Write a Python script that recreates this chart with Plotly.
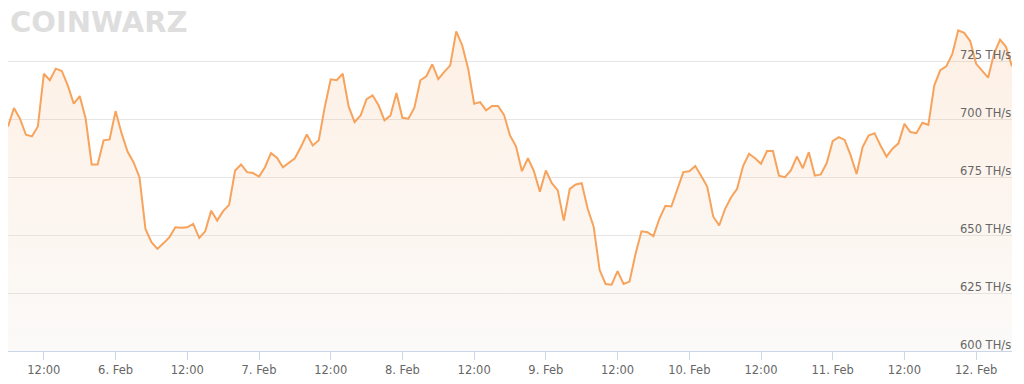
import pandas as pd
import plotly.graph_objects as go

# Hourly network hashrate (TH/s), 5 Feb 06:00 -> 12 Feb 06:00
start_time = "2020-02-05 06:00"
hashrate = [
    696.8, 704.7, 700.1, 693.2, 692.5, 696.8, 719.5, 716.7, 721.7, 720.7,
    714.5, 706.6, 709.9, 700.1, 680.4, 680.4, 690.8, 691.2, 703.4, 693.9,
    686.0, 681.4, 674.9, 652.6, 646.9, 644.0, 646.4, 649.0, 653.3, 653.1,
    653.3, 654.8, 648.7, 651.6, 660.5, 656.2, 660.3, 663.0, 677.8, 680.4,
    677.1, 676.7, 675.2, 679.2, 685.3, 683.3, 679.2, 681.0, 683.1, 687.9,
    693.3, 688.6, 690.8, 705.1, 717.1, 716.7, 719.5, 705.4, 698.7, 701.5,
    708.6, 710.2, 705.9, 699.4, 701.5, 711.2, 700.5, 700.1, 704.9, 716.7,
    718.4, 723.6, 717.2, 720.3, 723.1, 737.8, 731.8, 721.7, 706.6, 707.3,
    703.7, 705.6, 705.6, 701.8, 692.9, 688.2, 677.5, 683.1, 677.5, 668.7,
    677.8, 672.3, 669.2, 656.2, 669.9, 671.8, 672.3, 661.3, 653.6, 634.9,
    628.9, 628.6, 634.4, 628.9, 629.9, 641.8, 651.6, 651.2, 649.5, 657.0,
    662.6, 662.3, 669.9, 677.1, 677.5, 679.7, 675.4, 670.9, 658.0, 654.1,
    661.3, 666.3, 669.9, 679.7, 685.0, 683.1, 680.7, 686.2, 686.2, 675.6,
    674.9, 677.8, 683.8, 678.8, 685.7, 675.6, 676.1, 681.0, 690.5, 692.2,
    691.0, 684.3, 676.3, 687.9, 692.9, 693.9, 688.6, 683.8, 687.2, 689.5,
    697.9, 694.4, 693.9, 698.4, 697.5, 714.5, 721.0, 722.7, 727.9, 738.2,
    737.1, 733.6, 723.8, 720.7, 717.8, 728.2, 734.2, 731.1, 722.7,
]

x_tick_times = [
    "2020-02-05 12:00", "2020-02-06 00:00", "2020-02-06 12:00", "2020-02-07 00:00",
    "2020-02-07 12:00", "2020-02-08 00:00", "2020-02-08 12:00", "2020-02-09 00:00",
    "2020-02-09 12:00", "2020-02-10 00:00", "2020-02-10 12:00", "2020-02-11 00:00",
    "2020-02-11 12:00", "2020-02-12 00:00",
]
x_tick_labels = [
    "12:00", "6. Feb", "12:00", "7. Feb", "12:00", "8. Feb", "12:00", "9. Feb",
    "12:00", "10. Feb", "12:00", "11. Feb", "12:00", "12. Feb",
]
y_grid_values = [600, 625, 650, 675, 700, 725, 750]
y_label_values = [600, 625, 650, 675, 700, 725]
y_label_texts = ["600 TH/s", "625 TH/s", "650 TH/s", "675 TH/s", "700 TH/s", "725 TH/s"]

times = pd.date_range(start_time, periods=len(hashrate), freq="h")

fig = go.Figure()
fig.add_trace(go.Scatter(
    x=times, y=hashrate, mode="lines",
    line=dict(color="#f7a35c", width=2),
    fill="tozeroy",
    fillgradient=dict(
        type="vertical", start=600, stop=740,
        colorscale=[[0, "rgba(235,228,220,0.18)"], [1, "rgba(247,163,92,0.16)"]],
    ),
    hoverinfo="skip",
))

annotations = [dict(
    text="<b>CoinWarz</b>", xref="paper", yref="paper", x=0, y=1,
    xanchor="left", yanchor="top", yshift=0, showarrow=False,
    font=dict(family="DejaVu Sans", size=29, color="#dedede", textcase="upper"),
)]
for v, t in zip(y_label_values, y_label_texts):
    annotations.append(dict(
        text=t, xref="paper", yref="y", x=1, y=v,
        xanchor="right", yanchor="bottom", yshift=-3, xshift=1, showarrow=False,
        font=dict(family="DejaVu Sans", size=11.5, color="#666666"),
    ))

fig.update_layout(
    width=1024, height=384,
    margin=dict(l=8, r=12, t=3, b=33),
    paper_bgcolor="white", plot_bgcolor="white",
    showlegend=False,
    font=dict(family="DejaVu Sans", size=11, color="#666666"),
    annotations=annotations,
)
fig.update_xaxes(
    range=[times[0], times[-1]],
    tickvals=pd.to_datetime(x_tick_times), ticktext=x_tick_labels,
    showgrid=False, zeroline=False,
    showline=True, linecolor="#ccd6eb", linewidth=1,
    ticks="outside", ticklen=8, tickcolor="#ccd6eb", tickwidth=1,
    tickfont=dict(family="DejaVu Sans", size=11.5, color="#666666"),
)
fig.update_yaxes(
    range=[600, 750], side="right",
    tickvals=y_grid_values, showticklabels=False,
    showgrid=True, gridcolor="#e6e6e6", gridwidth=1,
    zeroline=False, showline=False, ticks="",
)

fig.write_html("out.html")
